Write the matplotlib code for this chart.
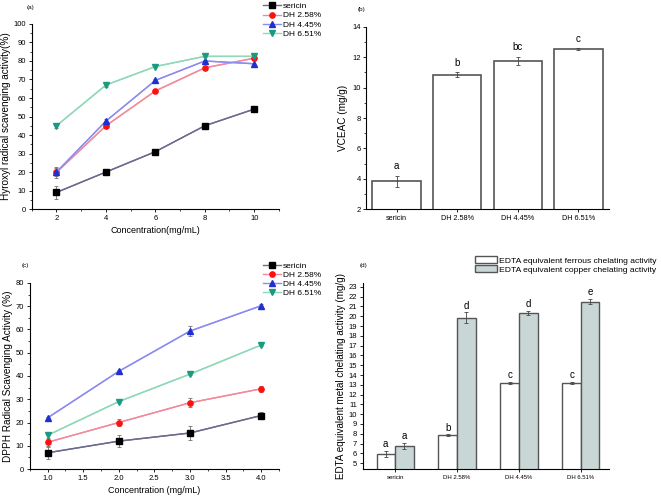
import matplotlib
matplotlib.use("Agg")
import matplotlib.pyplot as plt
import numpy as np
from matplotlib.ticker import MultipleLocator

plt.rcParams['font.family'] = ['Liberation Sans', 'DejaVu Sans']

# ---- data ----
series = ["sericin", "DH 2.58%", "DH 4.45%", "DH 6.51%"]

# (a) hydroxyl radical scavenging
conc_a = [2, 4, 6, 8, 10]
a_sericin = [9.0, 20.0, 31.0, 45.0, 54.0]
a_sericin_err = [3.5, 1.2, 0.5, 0.5, 0.5]
a_dh258 = [19.8, 45.0, 63.8, 76.3, 81.5]
a_dh258_err = [3.0, 1.0, 0.5, 0.5, 0.8]
a_dh445 = [20.0, 47.5, 69.5, 80.0, 78.5]
a_dh445_err = [2.0, 1.0, 0.5, 0.5, 2.0]
a_dh651 = [45.0, 67.0, 77.0, 82.5, 82.5]
a_dh651_err = [1.0, 1.0, 0.5, 0.5, 0.5]

# (b) VCEAC
b_values = [3.82, 10.85, 11.75, 12.55]
b_err = [0.38, 0.15, 0.28, 0.04]
b_letters = ["a", "b", "bc", "c"]

# (c) DPPH radical scavenging
conc_c = [1.0, 2.0, 3.0, 4.0]
c_sericin = [7.0, 12.0, 15.5, 23.0]
c_sericin_err = [2.5, 2.5, 3.0, 1.5]
c_dh258 = [11.5, 20.0, 28.5, 34.5]
c_dh258_err = [1.5, 1.5, 2.0, 1.2]
c_dh445 = [22.0, 42.0, 59.3, 70.2]
c_dh445_err = [0.5, 0.5, 2.0, 0.8]
c_dh651 = [14.5, 29.0, 40.8, 53.3]
c_dh651_err = [1.0, 0.5, 0.5, 0.5]

# (d) metal chelating
d_ferrous = [5.95, 7.85, 13.2, 13.2]
d_ferrous_err = [0.3, 0.1, 0.1, 0.1]
d_copper = [6.75, 19.85, 20.35, 21.5]
d_copper_err = [0.35, 0.55, 0.2, 0.3]
d_ferrous_letters = ["a", "b", "c", "c"]
d_copper_letters = ["a", "d", "d", "e"]

line_colors = ["#6b6b8f", "#f28a9a", "#8c8cf0", "#8fd8b8"]
marker_colors = ["#000000", "#ff1010", "#1f2fd0", "#1a9a80"]
markers = ["s", "o", "^", "v"]

fig = plt.figure(figsize=(6.61, 4.99), dpi=100)

TICK = 5.5
LAB = 6.5
YLAB = 7.2

def style_axes(ax):
    ax.spines['top'].set_visible(False)
    ax.spines['right'].set_visible(False)
    for s in ['left', 'bottom']:
        ax.spines[s].set_linewidth(0.8)
    ax.tick_params(direction='out', labelsize=TICK, length=2.5, width=0.6, pad=1.5)
    ax.tick_params(which='minor', direction='out', length=1.5, width=0.5)

# ---- (a) ----
ax_a = fig.add_axes([0.048, 0.581, 0.374, 0.371])
a_data = [(a_sericin, a_sericin_err), (a_dh258, a_dh258_err), (a_dh445, a_dh445_err), (a_dh651, a_dh651_err)]
handles = []
for i, (v, e) in enumerate(a_data):
    ax_a.errorbar(conc_a, v, yerr=e, color=line_colors[i], ecolor="#707070", elinewidth=0.6,
                  capsize=1.5, capthick=0.6, lw=1.0, zorder=2)
    h, = ax_a.plot(conc_a, v, color=line_colors[i], lw=1.0, marker=markers[i], ms=3.8,
                   mfc=marker_colors[i], mec=marker_colors[i], label=series[i], zorder=3)
    handles.append(h)
ax_a.set_xlim(1, 11)
ax_a.set_ylim(0, 100)
ax_a.xaxis.set_major_locator(MultipleLocator(2))
ax_a.xaxis.set_minor_locator(MultipleLocator(1))
ax_a.yaxis.set_major_locator(MultipleLocator(10))
ax_a.yaxis.set_minor_locator(MultipleLocator(5))
style_axes(ax_a)
ax_a.set_xlabel("Concentration(mg/mL)", fontsize=LAB, labelpad=3)
ax_a.set_ylabel("Hyroxyl radical scavenging activity(%)", fontsize=YLAB, labelpad=2)
fig.text(27/661, 1 - 8/499, "(a)", fontsize=4.5, ha='left', va='center')
fig.legend(handles=handles, loc='upper left', bbox_to_anchor=(258/661, 1.005), frameon=False,
           fontsize=6, handlelength=2.2, handletextpad=0.2, labelspacing=0.15, borderpad=0.1)

# ---- (b) ----
ax_b = fig.add_axes([0.554, 0.581, 0.367, 0.365])
xb = np.arange(len(series))
ax_b.bar(xb, b_values, width=0.8, bottom=0, color="white", edgecolor="#555555", linewidth=1.2, zorder=2)
ax_b.errorbar(xb, b_values, yerr=b_err, fmt='none', ecolor="#444444", elinewidth=0.6,
              capsize=1.5, capthick=0.6, zorder=3)
for x, v, e, t in zip(xb, b_values, b_err, b_letters):
    ax_b.text(x, v + e + 0.3, t, ha='center', va='bottom', fontsize=7)
ax_b.set_xlim(-0.5, 3.5)
ax_b.set_ylim(2, 14)
ax_b.set_xticks(xb)
ax_b.set_xticklabels(series)
ax_b.yaxis.set_major_locator(MultipleLocator(2))
ax_b.yaxis.set_minor_locator(MultipleLocator(1))
style_axes(ax_b)
ax_b.tick_params(axis='x', labelsize=5.2)
ax_b.set_ylabel("VCEAC (mg/g)", fontsize=YLAB, labelpad=3)
fig.text(358/661, 1 - 9/499, "(b)", fontsize=4.5, ha='left', va='center')

# ---- (c) ----
ax_c = fig.add_axes([0.045, 0.060, 0.377, 0.373])
c_data = [(c_sericin, c_sericin_err), (c_dh258, c_dh258_err), (c_dh445, c_dh445_err), (c_dh651, c_dh651_err)]
handles_c = []
for i, (v, e) in enumerate(c_data):
    ax_c.errorbar(conc_c, v, yerr=e, color=line_colors[i], ecolor="#707070", elinewidth=0.6,
                  capsize=1.5, capthick=0.6, lw=1.0, zorder=2)
    h, = ax_c.plot(conc_c, v, color=line_colors[i], lw=1.0, marker=markers[i], ms=3.8,
                   mfc=marker_colors[i], mec=marker_colors[i], label=series[i], zorder=3)
    handles_c.append(h)
ax_c.set_xlim(0.75, 4.25)
ax_c.set_ylim(0, 80)
ax_c.xaxis.set_major_locator(MultipleLocator(0.5))
ax_c.xaxis.set_minor_locator(MultipleLocator(0.25))
ax_c.yaxis.set_major_locator(MultipleLocator(10))
ax_c.yaxis.set_minor_locator(MultipleLocator(5))
ax_c.xaxis.set_major_formatter(matplotlib.ticker.FormatStrFormatter('%.1f'))
style_axes(ax_c)
ax_c.set_xlabel("Concentration (mg/mL)", fontsize=LAB, labelpad=3)
ax_c.set_ylabel("DPPH Radical Scavenging Activity (%)", fontsize=YLAB, labelpad=2)
fig.text(22/661, 1 - 266/499, "(c)", fontsize=4.5, ha='left', va='center')
fig.legend(handles=handles_c, loc='upper left', bbox_to_anchor=(258/661, 1 - 257/499), frameon=False,
           fontsize=6, handlelength=2.2, handletextpad=0.2, labelspacing=0.15, borderpad=0.1)

# ---- (d) ----
ax_d = fig.add_axes([0.549, 0.060, 0.372, 0.373])
xd = np.arange(len(series))
w = 0.3
bars_f = ax_d.bar(xd - w/2, d_ferrous, width=w, bottom=0, color="white", edgecolor="#555555",
                  linewidth=1.0, zorder=2, label="EDTA equivalent ferrous chelating activity")
bars_c = ax_d.bar(xd + w/2, d_copper, width=w, bottom=0, color="#c9d6d6", edgecolor="#555555",
                  linewidth=1.0, zorder=2, label="EDTA equivalent copper chelating activity")
ax_d.errorbar(xd - w/2, d_ferrous, yerr=d_ferrous_err, fmt='none', ecolor="#444444",
              elinewidth=0.6, capsize=1.5, capthick=0.6, zorder=3)
ax_d.errorbar(xd + w/2, d_copper, yerr=d_copper_err, fmt='none', ecolor="#444444",
              elinewidth=0.6, capsize=1.5, capthick=0.6, zorder=3)
for x, v, e, t in zip(xd - w/2, d_ferrous, d_ferrous_err, d_ferrous_letters):
    ax_d.text(x, v + e + 0.15, t, ha='center', va='bottom', fontsize=7)
for x, v, e, t in zip(xd + w/2, d_copper, d_copper_err, d_copper_letters):
    ax_d.text(x, v + e + 0.15, t, ha='center', va='bottom', fontsize=7)
ax_d.set_xlim(-0.52, 3.45)
ax_d.set_ylim(4.4, 23.4)
ax_d.set_xticks(xd)
ax_d.set_xticklabels(series)
ax_d.yaxis.set_major_locator(MultipleLocator(1))
style_axes(ax_d)
ax_d.tick_params(axis='x', labelsize=4.3)
ax_d.set_ylabel("EDTA equivalent metal chelating activity (mg/g)", fontsize=7.1, labelpad=2)
fig.text(360/661, 1 - 265/499, "(d)", fontsize=4.5, ha='left', va='center')
fig.legend(handles=[bars_f, bars_c], loc='upper left', bbox_to_anchor=(470/661, 1 - 251/499),
           frameon=False, fontsize=6.1, handlelength=2.6, handleheight=0.9, handletextpad=0.2,
           labelspacing=0.1, borderpad=0.1)

fig.savefig("out.png", dpi=100)
